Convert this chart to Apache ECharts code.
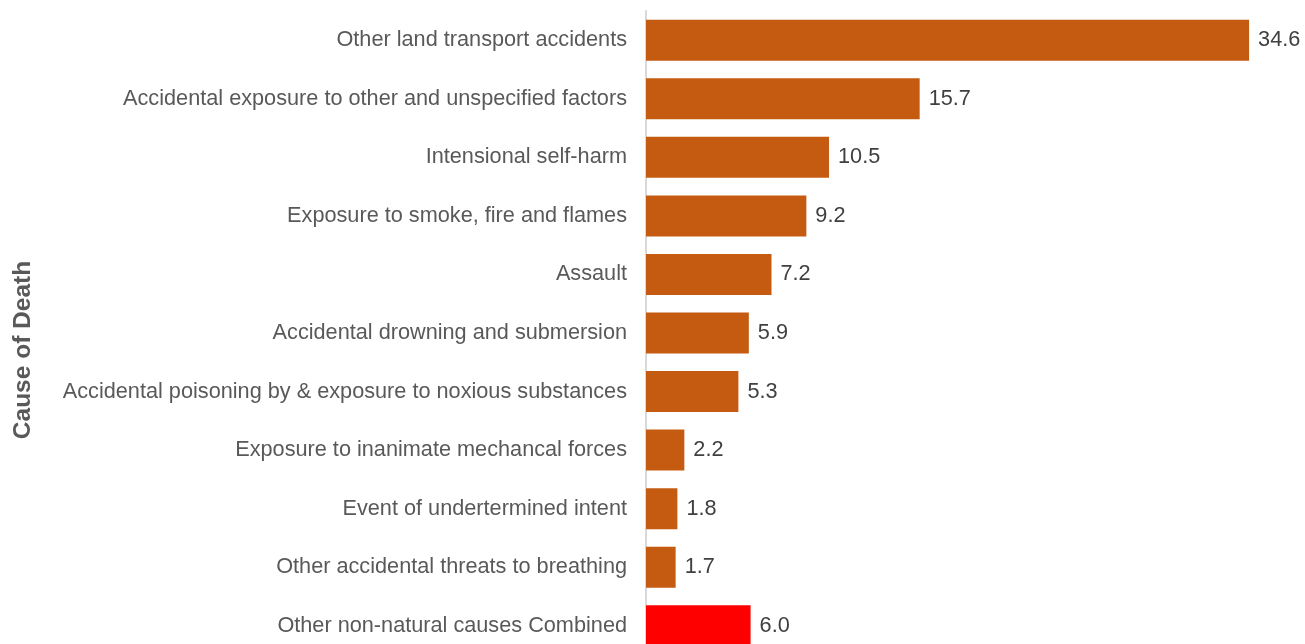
<!DOCTYPE html>
<html>
<head>
<meta charset="utf-8">
<script src="https://cdn.jsdelivr.net/npm/echarts@6/dist/echarts.min.js"></script>
<style>
  html, body { margin: 0; padding: 0; background: #ffffff; overflow: hidden; }
  /* the plot runs slightly past the bottom of the window, so the last bar is clipped */
  #chart { width: 1305px; height: 655px; }
</style>
</head>
<body>
<div id="chart"></div>
<script>
// Causes of non-natural death, top to bottom as drawn
const causes = [
  'Other land transport accidents',
  'Accidental exposure to other and unspecified factors',
  'Intensional self-harm',
  'Exposure to smoke, fire and flames',
  'Assault',
  'Accidental drowning and submersion',
  'Accidental poisoning by & exposure to noxious substances',
  'Exposure to inanimate mechancal forces',
  'Event of undertermined intent',
  'Other accidental threats to breathing',
  'Other non-natural causes Combined'
];
const values = [34.6, 15.7, 10.5, 9.2, 7.2, 5.9, 5.3, 2.2, 1.8, 1.7, 6.0];
const highlighted = ['Other non-natural causes Combined'];

const barColor = '#C55A11';
const highlightColor = '#FF0000';
const fontFamily = 'Liberation Sans, Arial, sans-serif';

const chart = echarts.init(document.getElementById('chart'), null, { renderer: 'canvas' });

chart.setOption({
  animation: false,
  backgroundColor: '#ffffff',
  grid: { left: 646, right: 31.5, top: 11, bottom: 0, containLabel: false },
  xAxis: {
    type: 'value',
    min: 0,
    max: 36,
    show: false
  },
  yAxis: {
    type: 'category',
    inverse: true,
    data: causes,
    axisLine: { show: true, lineStyle: { color: '#d9d9d9', width: 2 } },
    axisTick: { show: false },
    axisLabel: {
      color: '#595959',
      fontSize: 21.7,
      fontFamily: fontFamily,
      margin: 19,
      padding: [3, 0, 0, 0]
    }
  },
  series: [{
    type: 'bar',
    barWidth: '70%',
    data: causes.map((c, i) => ({
      value: values[i],
      itemStyle: { color: highlighted.includes(c) ? highlightColor : barColor }
    })),
    label: {
      show: true,
      position: 'right',
      distance: 9,
      color: '#404040',
      fontSize: 21.7,
      fontFamily: fontFamily,
      padding: [3, 0, 0, 0],
      formatter: p => p.value.toFixed(1)
    }
  }],
  graphic: [{
    type: 'text',
    x: 23,
    y: 350,
    rotation: Math.PI / 2,
    style: {
      text: 'Cause of Death',
      fill: '#595959',
      font: 'bold 24.5px ' + fontFamily,
      align: 'center',
      verticalAlign: 'middle'
    }
  }]
});
</script>
</body>
</html>
